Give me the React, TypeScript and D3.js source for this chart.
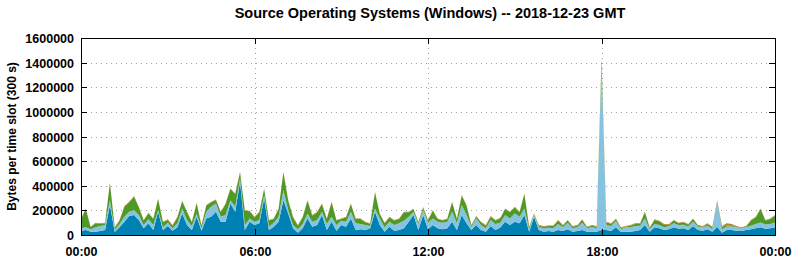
import React, { useEffect, useRef } from 'react';
import * as d3 from 'd3';

// 10-minute slots, values in kB per time slot
const darkBlue = [
  35, 40, 27, 27, 32, 40, 243, 24, 62, 108, 154, 162, 122, 54, 95, 40, 189, 40, 73, 35,
  62, 175, 81, 40, 148, 35, 135, 148, 189, 108, 108, 256, 189, 432, 40, 108, 81, 95, 297, 40,
  68, 108, 283, 175, 54, 19, 54, 135, 68, 81, 162, 40, 108, 35, 81, 68, 135, 40, 46, 40,
  54, 189, 81, 27, 68, 35, 40, 54, 108, 162, 40, 162, 46, 81, 54, 46, 54, 108, 40, 162,
  95, 40, 81, 40, 27, 73, 40, 60, 108, 81, 108, 95, 162, 27, 148, 40, 27, 32, 27, 40,
  32, 46, 27, 32, 40, 27, 27, 27, 40, 40, 32, 62, 24, 27, 27, 32, 40, 81, 27, 62,
  54, 40, 46, 62, 51, 54, 40, 73, 40, 35, 46, 27, 68, 19, 40, 40, 35, 32, 40, 46,
  54, 62, 51, 54, 62,
];
const lightBlue = [
  19, 22, 19, 35, 41, 41, 40, 16, 27, 40, 35, 40, 40, 27, 32, 41, 13, 22, 27, 19,
  33, 41, 41, 33, 27, 19, 54, 82, 67, 40, 54, 27, 41, 27, 41, 27, 27, 27, 27, 28,
  32, 40, 81, 27, 27, 27, 35, 40, 40, 41, 27, 49, 40, 46, 35, 40, 54, 55, 43, 41,
  19, 27, 54, 35, 40, 46, 55, 62, 40, 27, 49, 40, 54, 54, 54, 54, 54, 81, 55, 81,
  67, 22, 54, 41, 27, 49, 49, 40, 54, 54, 67, 53, 54, 19, 14, 22, 27, 27, 30, 49,
  30, 54, 27, 30, 60, 27, 35, 27, 1330, 41, 41, 54, 22, 35, 35, 41, 35, 54, 19, 27,
  27, 22, 27, 33, 30, 30, 30, 35, 27, 27, 30, 22, 202, 27, 30, 30, 27, 22, 22, 30,
  35, 40, 35, 35, 40,
];
const green = [
  76, 149, 17, 33, 17, 14, 139, 17, 28, 82, 76, 109, 63, 36, 49, 49, 90, 41, 22, 22,
  48, 57, 62, 30, 82, 22, 49, 35, 28, 36, 89, 90, 102, 49, 116, 57, 35, 62, 49, 49,
  30, 63, 144, 76, 62, 30, 54, 103, 49, 62, 62, 41, 117, 36, 14, 35, 62, 35, 41, 22,
  17, 130, 35, 33, 35, 36, 35, 68, 36, 20, 14, 20, 17, 62, 22, 17, 22, 76, 35, 76,
  76, 14, 14, 22, 22, 27, 28, 35, 49, 49, 50, 36, 116, 17, 8, 14, 14, 14, 16, 28,
  14, 17, 14, 14, 22, 9, 14, 14, 60, 22, 17, 14, 11, 6, 14, 17, 15, 49, 11, 33,
  30, 22, 11, 22, 14, 19, 14, 22, 9, 6, 14, 14, 8, 22, 8, 9, 6, 3, 6, 41,
  54, 109, 31, 41, 55,
];
const other = [
  5, 5, 5, 5, 5, 5, 5, 5, 5, 5, 5, 5, 5, 5, 5, 5, 5, 5, 5, 5,
  5, 5, 5, 5, 5, 5, 5, 5, 5, 5, 5, 5, 5, 5, 5, 5, 5, 5, 5, 5,
  5, 5, 5, 5, 5, 5, 5, 5, 5, 5, 5, 5, 5, 5, 5, 5, 5, 5, 5, 5,
  5, 5, 5, 5, 5, 5, 5, 5, 5, 5, 5, 5, 5, 5, 5, 5, 5, 5, 5, 5,
  5, 5, 5, 5, 5, 5, 5, 5, 5, 5, 5, 5, 5, 5, 5, 5, 5, 5, 5, 5,
  5, 5, 5, 5, 5, 5, 5, 5, 10, 5, 5, 5, 5, 5, 5, 5, 5, 5, 5, 5,
  5, 5, 5, 5, 5, 5, 5, 5, 5, 5, 5, 5, 5, 5, 17, 10, 5, 5, 5, 5,
  5, 5, 5, 5, 5,
];

const seriesKeys = ['darkBlue', 'lightBlue', 'green', 'other'];
const seriesColors = ['#0081b4', '#86c3e1', '#4e9a26', '#c07a22'];
const yTicks = [0, 200000, 400000, 600000, 800000, 1000000, 1200000, 1400000, 1600000];
const xTickHours = [0, 6, 12, 18, 24];
const xTickLabels = ['00:00', '06:00', '12:00', '18:00', '00:00'];

const width = 795;
const height = 260;
const margin = { top: 38, right: 20, bottom: 25, left: 81 };

const App: React.FC = () => {
  const svgRef = useRef<SVGSVGElement>(null);

  useEffect(() => {
    document.body.style.margin = '0';
    if (!svgRef.current) return;
    const svg = d3.select(svgRef.current);
    svg.selectAll('*').remove();

    const innerWidth = width - margin.left - margin.right;
    const innerHeight = height - margin.top - margin.bottom;

    const rows = darkBlue.map((_, i) => ({
      hour: i / 6,
      darkBlue: darkBlue[i] * 1000,
      lightBlue: lightBlue[i] * 1000,
      green: green[i] * 1000,
      other: other[i] * 1000,
    }));

    const x = d3.scaleLinear().domain([0, 24]).range([0, innerWidth]);
    const y = d3.scaleLinear().domain([0, 1600000]).range([innerHeight, 0]);

    const font = '"Liberation Sans", Arial, Helvetica, sans-serif';

    // Title
    svg.append('text')
      .attr('x', margin.left + innerWidth / 2 + 2)
      .attr('y', 18)
      .attr('text-anchor', 'middle')
      .style('font-family', font)
      .style('font-weight', 'bold')
      .style('font-size', '14.5px')
      .text('Source Operating Systems (Windows) -- 2018-12-23 GMT');

    // Y label
    svg.append('text')
      .attr('transform', `translate(16,${margin.top + innerHeight / 2}) rotate(-90)`)
      .attr('text-anchor', 'middle')
      .style('font-family', font)
      .style('font-weight', 'bold')
      .style('font-size', '12px')
      .text('Bytes per time slot (300 s)');

    const g = svg.append('g').attr('transform', `translate(${margin.left},${margin.top})`);

    // Grid
    g.selectAll('.hgrid')
      .data(yTicks.slice(1, -1))
      .enter()
      .append('line')
      .attr('x1', 0)
      .attr('x2', innerWidth)
      .attr('y1', d => Math.round(y(d)) + 0.5)
      .attr('y2', d => Math.round(y(d)) + 0.5)
      .attr('stroke', '#a0a0a0')
      .attr('stroke-width', 1)
      .attr('stroke-dasharray', '1,4');

    g.selectAll('.vgrid')
      .data(xTickHours.slice(1, -1))
      .enter()
      .append('line')
      .attr('x1', d => Math.round(x(d)) + 0.5)
      .attr('x2', d => Math.round(x(d)) + 0.5)
      .attr('y1', 0)
      .attr('y2', innerHeight)
      .attr('stroke', '#a0a0a0')
      .attr('stroke-width', 1)
      .attr('stroke-dasharray', '1,4');

    // Stacked areas
    const stack = d3.stack<any>().keys(seriesKeys);
    const layers = stack(rows);
    const area = d3.area<any>()
      .x(d => x(d.data.hour))
      .y0(d => y(d[0]))
      .y1(d => y(d[1]));

    g.selectAll('.layer')
      .data(layers)
      .enter()
      .append('path')
      .attr('fill', (_, i) => seriesColors[i])
      .attr('d', d => area(d) as string);

    // Ticks (inward, mirrored)
    yTicks.forEach(t => {
      const yy = Math.round(y(t)) + 0.5;
      g.append('line').attr('x1', 0).attr('x2', 6).attr('y1', yy).attr('y2', yy).attr('stroke', '#000');
      g.append('line').attr('x1', innerWidth - 6).attr('x2', innerWidth).attr('y1', yy).attr('y2', yy).attr('stroke', '#000');
      g.append('text')
        .attr('x', -7)
        .attr('y', yy + 4.5)
        .attr('text-anchor', 'end')
        .style('font-family', font)
        .style('font-weight', 'bold')
        .style('font-size', '12.5px')
        .text(String(t));
    });

    xTickHours.forEach((h, i) => {
      const xx = Math.round(x(h)) + 0.5;
      g.append('line').attr('x1', xx).attr('x2', xx).attr('y1', innerHeight).attr('y2', innerHeight - 6).attr('stroke', '#000');
      g.append('line').attr('x1', xx).attr('x2', xx).attr('y1', 0).attr('y2', 6).attr('stroke', '#000');
      g.append('text')
        .attr('x', xx)
        .attr('y', innerHeight + 21)
        .attr('text-anchor', 'middle')
        .style('font-family', font)
        .style('font-weight', 'bold')
        .style('font-size', '12.5px')
        .text(xTickLabels[i]);
    });

    // Frame
    g.append('rect')
      .attr('x', 0.5)
      .attr('y', 0.5)
      .attr('width', innerWidth)
      .attr('height', innerHeight)
      .attr('fill', 'none')
      .attr('stroke', '#000')
      .attr('stroke-width', 1);
  }, []);

  return <svg ref={svgRef} width={width} height={height} style={{ display: 'block', background: '#fff' }} />;
};

export default App;
